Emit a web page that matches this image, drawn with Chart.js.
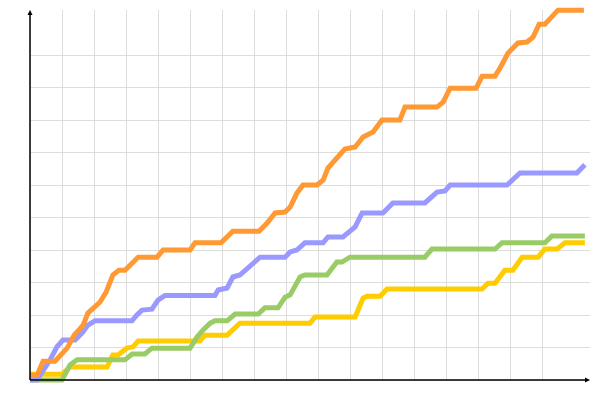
<!DOCTYPE html>
<html>
<head>
<meta charset="utf-8">
<script src="https://cdn.jsdelivr.net/npm/chart.js@4"></script>
<style>
  html, body { margin: 0; padding: 0; background: #fff; }
  #wrap { width: 600px; height: 400px; }
</style>
</head>
<body>
<div id="wrap"><canvas id="chart"></canvas></div>
<script>
// Series values (x in grid units, y in grid units)
const orangeX = [0, 0.22, 0.41, 0.78, 1.16, 1.38, 1.66, 1.81, 2.19, 2.38, 2.59, 2.78, 2.97, 3.38, 3.97, 4.16, 5.0, 5.16, 5.97, 6.34, 7.16, 7.41, 7.66, 7.97, 8.13, 8.34, 8.53, 8.97, 9.16, 9.31, 9.59, 9.84, 10.16, 10.41, 10.72, 11.0, 11.56, 11.72, 12.72, 12.91, 13.13, 13.94, 14.13, 14.53, 14.69, 14.94, 15.25, 15.53, 15.72, 15.91, 16.09, 16.5, 17.31];
const orangeY = [0.15, 0.15, 0.58, 0.58, 0.98, 1.38, 1.69, 2.06, 2.4, 2.71, 3.23, 3.38, 3.38, 3.78, 3.78, 4.0, 4.0, 4.22, 4.22, 4.58, 4.58, 4.83, 5.14, 5.17, 5.32, 5.75, 6.0, 6.0, 6.15, 6.52, 6.83, 7.11, 7.17, 7.48, 7.63, 8.0, 8.0, 8.4, 8.4, 8.55, 8.98, 8.98, 9.35, 9.35, 9.6, 10.06, 10.37, 10.4, 10.55, 10.95, 10.95, 11.38, 11.38];

const blueX = [0, 0.22, 0.63, 0.84, 1.03, 1.41, 1.63, 1.81, 2.03, 3.19, 3.34, 3.5, 3.81, 4.0, 4.22, 5.78, 5.88, 6.16, 6.34, 6.56, 7.19, 7.97, 8.13, 8.34, 8.59, 9.16, 9.31, 9.78, 10.16, 10.38, 11.03, 11.34, 12.34, 12.72, 12.97, 13.13, 14.91, 15.31, 17.09, 17.34];
const blueY = [0, 0, 0.62, 1.02, 1.23, 1.23, 1.45, 1.69, 1.82, 1.82, 2.0, 2.15, 2.18, 2.46, 2.6, 2.6, 2.77, 2.83, 3.17, 3.23, 3.78, 3.78, 3.94, 4.0, 4.22, 4.22, 4.4, 4.4, 4.71, 5.14, 5.14, 5.45, 5.45, 5.78, 5.82, 6.0, 6.0, 6.37, 6.37, 6.62];

const greenX = [0, 1.0, 1.25, 1.47, 2.97, 3.19, 3.59, 3.81, 5.0, 5.22, 5.41, 5.63, 5.78, 6.16, 6.41, 7.13, 7.34, 7.75, 7.97, 8.13, 8.44, 8.59, 9.28, 9.59, 9.75, 10.0, 12.34, 12.56, 14.53, 14.75, 16.09, 16.31, 17.34];
const greenY = [0, 0, 0.46, 0.62, 0.62, 0.8, 0.8, 0.98, 0.98, 1.32, 1.54, 1.75, 1.82, 1.82, 2.03, 2.03, 2.22, 2.22, 2.55, 2.62, 3.17, 3.23, 3.23, 3.63, 3.63, 3.78, 3.78, 4.03, 4.03, 4.22, 4.22, 4.43, 4.43];

const yellowX = [0, 1.0, 1.25, 2.41, 2.59, 2.75, 3.03, 3.22, 3.38, 5.31, 5.47, 6.16, 6.56, 8.75, 8.91, 10.16, 10.41, 10.53, 10.94, 11.16, 14.13, 14.31, 14.53, 14.84, 15.09, 15.38, 15.88, 16.09, 16.47, 16.72, 17.34];
const yellowY = [0.18, 0.18, 0.4, 0.4, 0.77, 0.77, 0.98, 1.02, 1.2, 1.2, 1.38, 1.38, 1.75, 1.75, 1.94, 1.94, 2.52, 2.58, 2.58, 2.8, 2.8, 2.98, 2.98, 3.38, 3.38, 3.78, 3.78, 4.03, 4.03, 4.22, 4.22];

// Axis ranges and grid positions
const xMax = 17.5;
const yMax = 11.385;
const xGrid = [0, 1, 2, 3, 4, 5, 6, 7, 8, 9, 10, 11, 12, 13, 14, 15, 16];
const yGrid = [0, 1, 2, 3, 4, 5, 6, 7, 8, 9, 10];

function toPoints(xs, ys) {
    return xs.map((x, i) => ({ x: x, y: ys[i] }));
}

function series(xs, ys, color) {
    return {
        data: toPoints(xs, ys),
        borderColor: color,
        backgroundColor: color,
        borderWidth: 5,
        pointRadius: 0,
        tension: 0,
        clip: false,
    };
}

// black axes with arrow heads
const arrowAxes = {
    id: 'arrowAxes',
    afterDatasetsDraw(chart) {
        const ctx = chart.ctx;
        const a = chart.chartArea;
        ctx.save();
        ctx.strokeStyle = '#000';
        ctx.fillStyle = '#000';
        ctx.lineWidth = 1.5;
        ctx.beginPath();
        ctx.moveTo(a.left, a.bottom);
        ctx.lineTo(a.left, a.top + 2);
        ctx.moveTo(a.left, a.bottom);
        ctx.lineTo(a.right - 2, a.bottom);
        ctx.stroke();
        ctx.beginPath();
        ctx.moveTo(a.left, a.top);
        ctx.lineTo(a.left - 2.5, a.top + 5);
        ctx.lineTo(a.left + 2.5, a.top + 5);
        ctx.closePath();
        ctx.fill();
        ctx.beginPath();
        ctx.moveTo(a.right, a.bottom);
        ctx.lineTo(a.right - 5, a.bottom - 2.5);
        ctx.lineTo(a.right - 5, a.bottom + 2.5);
        ctx.closePath();
        ctx.fill();
        ctx.restore();
    }
};

const CHART = document.getElementById("chart");
const lineChart = new Chart(CHART, {
    type: 'line',
    data: {
        datasets: [
            series(orangeX, orangeY, '#ff9933'),
            series(blueX, blueY, '#9999ff'),
            series(greenX, greenY, '#99cc66'),
            series(yellowX, yellowY, '#ffcc00'),
        ]
    },
    options: {
        responsive: true,
        maintainAspectRatio: false,
        animation: false,
        layout: {
            padding: { left: 30, right: 10, top: 10, bottom: 20 }
        },
        plugins: {
            legend: { display: false },
            tooltip: { enabled: false },
        },
        scales: {
            x: {
                type: 'linear',
                min: 0,
                max: xMax,
                afterBuildTicks: (scale) => { scale.ticks = xGrid.map(v => ({ value: v })); },
                ticks: { display: false },
                grid: { color: '#dddddd', lineWidth: 1, drawTicks: false },
                border: { display: false },
            },
            y: {
                type: 'linear',
                min: 0,
                max: yMax,
                afterBuildTicks: (scale) => { scale.ticks = yGrid.map(v => ({ value: v })); },
                ticks: { display: false },
                grid: { color: '#dddddd', lineWidth: 1, drawTicks: false },
                border: { display: false },
            },
        },
    },
    plugins: [arrowAxes],
});
</script>
</body>
</html>
